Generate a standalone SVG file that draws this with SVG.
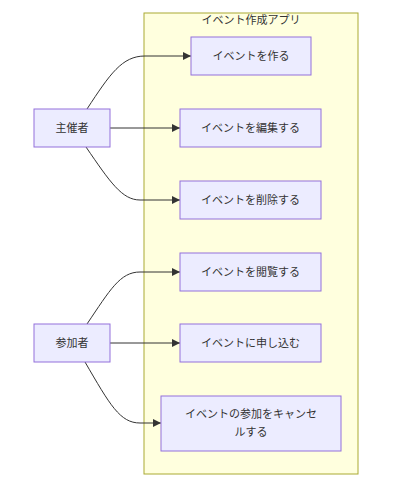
<svg xmlns="http://www.w3.org/2000/svg" width="405" height="479" viewBox="0 0 405 479">
<style>
.node rect{fill:#ECECFF;stroke:#9370DB;stroke-width:1}
.label{font-family:"Liberation Sans","Noto Sans CJK JP",sans-serif;font-size:11px;fill:#333333;text-anchor:middle;dominant-baseline:central}
.edge{fill:none;stroke:#333333;stroke-width:1;marker-end:url(#arrow)}
</style>
<defs>
<marker id="arrow" viewBox="0 0 10 10" refX="10" refY="5" markerWidth="8" markerHeight="8" markerUnits="userSpaceOnUse" orient="auto">
<path d="M0,0 L10,5 L0,10 z" fill="#333333"/>
</marker>
</defs>
<rect width="405" height="479" fill="#ffffff"/>
<g id="cluster">
<rect x="144" y="13" width="214" height="461" fill="#ffffde" stroke="#aaaa33" stroke-width="1"/>
<text class="label" x="251" y="20">イベント作成アプリ</text>
</g>
<g id="connectors">
<path class="edge" d="M87,109 C110,74 122,56 145,56 L191,56"/>
<path class="edge" d="M110,128 L180,128"/>
<path class="edge" d="M86,147 C110,182 122,200 140,200 L180,200"/>
<path class="edge" d="M87,324 C110,290 120,272 140,272 L180,272"/>
<path class="edge" d="M110,343 L180,343"/>
<path class="edge" d="M85,362 C110,405 120,423 140,423 L161,423"/>
</g>
<g id="host" class="node"><rect x="34" y="109" width="76" height="38"/><text class="label" x="72" y="128">主催者</text></g>
<g id="participant" class="node"><rect x="34" y="324" width="76" height="38"/><text class="label" x="72" y="343">参加者</text></g>
<g id="create" class="node"><rect x="191" y="37" width="120" height="38"/><text class="label" x="251" y="56">イベントを作る</text></g>
<g id="edit" class="node"><rect x="180" y="109" width="141" height="38"/><text class="label" x="250.5" y="128">イベントを編集する</text></g>
<g id="delete" class="node"><rect x="180" y="181" width="141" height="38"/><text class="label" x="250.5" y="200">イベントを削除する</text></g>
<g id="browse" class="node"><rect x="180" y="253" width="141" height="38"/><text class="label" x="250.5" y="272">イベントを閲覧する</text></g>
<g id="join" class="node"><rect x="180" y="324" width="141" height="38"/><text class="label" x="250.5" y="343">イベントに申し込む</text></g>
<g id="cancel" class="node"><rect x="161" y="396" width="180" height="55"/><text class="label" x="251" y="414">イベントの参加をキャンセ</text><text class="label" x="251" y="432">ルする</text></g>
</svg>
